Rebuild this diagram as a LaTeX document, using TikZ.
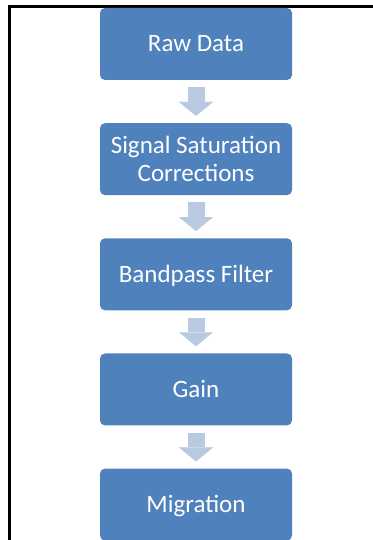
\documentclass[tikz,border=0pt]{standalone}
\usepackage{fontspec}
\setmainfont{Carlito}
\usetikzlibrary{positioning, arrows.meta}
\definecolor{boxblue}{HTML}{4F81BD}
\definecolor{arrowblue}{HTML}{B9C9E2}

\begin{document}
\begin{tikzpicture}[x=1pt, y=-1pt,
  stagebox/.style={fill=boxblue, rounded corners=5pt, minimum width=192pt,
    minimum height=72pt, inner sep=0pt, text=white, align=center,
    font=\fontsize{25}{28}\selectfont, text height=16pt, text depth=0pt},
  flowarrow/.style={arrowblue, line width=17pt,
    -{Triangle[width=34pt, length=14pt, line width=0.1pt]},
    shorten <=7pt, shorten >=7pt}]
  \useasboundingbox (0,0) rectangle (372,540);
  % frame, cut off at right and bottom
  \draw[line width=3pt] (9.5,541) -- (9.5,6.5) -- (373,6.5);
  % processing steps
  \node[stagebox] (raw) at (196,44) {Raw Data};
  \node[stagebox, below=42.75pt of raw, text height=44pt] (sat) {Signal Saturation\\Corrections};
  \node[stagebox, below=42.75pt of sat] (band) {Bandpass Filter};
  \node[stagebox, below=42.75pt of band] (gain) {Gain};
  \node[stagebox, below=42.75pt of gain] (mig) {Migration};
  \foreach \a/\b in {raw/sat, sat/band, band/gain, gain/mig}
    \draw[flowarrow] (\a.south) -- (\b.north);
\end{tikzpicture}
\end{document}
